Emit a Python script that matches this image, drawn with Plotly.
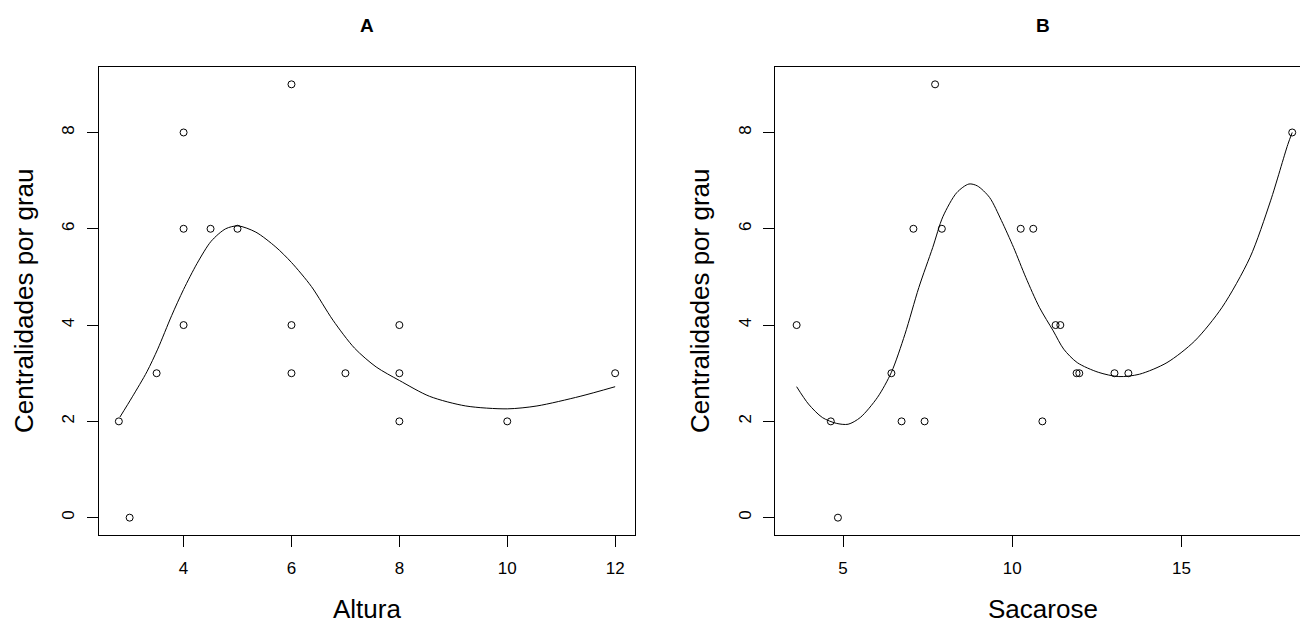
import plotly.graph_objects as go

# ---- Panel A data (Altura vs Centralidades por grau) ----
altura_x = [2.8, 3.0, 3.5, 4.0, 4.0, 4.0, 4.5, 5.0, 6.0, 6.0, 6.0, 7.0, 8.0, 8.0, 8.0, 10.0, 12.0]
altura_y = [2, 0, 3, 8, 6, 4, 6, 6, 9, 4, 3, 3, 4, 3, 2, 2, 3]

# smooth curve
curveA_x = [2.82, 3.05, 3.32, 3.52, 3.78, 4.0, 4.25, 4.51, 4.78, 5.01, 5.34, 5.71, 6.0,
            6.37, 6.77, 7.17, 7.57, 8.0, 8.56, 9.23, 10.0, 10.55, 11.35, 12.0]
curveA_y = [2.09, 2.51, 3.03, 3.50, 4.20, 4.74, 5.28, 5.74, 6.00, 6.06, 5.93, 5.62, 5.30,
            4.80, 4.10, 3.52, 3.13, 2.85, 2.52, 2.32, 2.26, 2.32, 2.52, 2.72]

# ---- Panel B data (Sacarose vs Centralidades por grau) ----
sacarose_x = [3.63, 4.64, 4.85, 6.43, 6.73, 7.08, 7.41, 7.72, 7.92, 10.25, 10.62, 10.89,
              11.28, 11.42, 11.90, 11.98, 13.02, 13.43, 18.27]
sacarose_y = [4, 2, 0, 3, 2, 6, 2, 9, 6, 6, 6, 2, 4, 4, 3, 3, 3, 3, 8]

curveB_x = [3.63, 3.98, 4.39, 4.80, 5.15, 5.51, 6.02, 6.43, 6.83, 7.24, 7.65, 7.95, 8.36,
            8.72, 8.97, 9.33, 9.68, 10.04, 10.40, 10.80, 11.21, 11.52, 11.92, 12.54, 13.15,
            13.76, 14.57, 15.39, 16.20, 17.02, 17.63, 18.14, 18.27]
curveB_y = [2.72, 2.36, 2.08, 1.96, 1.94, 2.08, 2.50, 3.02, 3.81, 4.78, 5.61, 6.25, 6.75,
            6.93, 6.89, 6.65, 6.17, 5.61, 4.99, 4.37, 3.88, 3.50, 3.22, 3.02, 2.93,
            2.98, 3.22, 3.67, 4.37, 5.40, 6.58, 7.75, 8.0]

xticksA = [4, 6, 8, 10, 12]
xticksB = [5, 10, 15]
yticks = [0, 2, 4, 6, 8]
titles = ["A", "B"]
xlabels = ["Altura", "Sacarose"]
ylabel = "Centralidades por grau"

FONT = "Liberation Sans, Arial, sans-serif"
W, H = 1300, 624
ML, MR, MT, MB = 99, 0, 67, 89
PW = W - ML - MR
PH = H - MT - MB


def px_x(p):
    return (p - ML) / PW


def px_y(p):
    return (H - MB - p) / PH


fig = go.Figure()
marker = dict(symbol="circle-open", size=7, color="black", line=dict(width=1, color="black"))
line = dict(color="black", width=1, shape="spline", smoothing=0.8)

fig.add_trace(go.Scatter(x=altura_x, y=altura_y, mode="markers", marker=marker,
                         xaxis="x", yaxis="y", hoverinfo="skip"))
fig.add_trace(go.Scatter(x=curveA_x, y=curveA_y, mode="lines", line=line,
                         xaxis="x", yaxis="y", hoverinfo="skip"))
fig.add_trace(go.Scatter(x=sacarose_x, y=sacarose_y, mode="markers", marker=marker,
                         xaxis="x2", yaxis="y2", hoverinfo="skip"))
fig.add_trace(go.Scatter(x=curveB_x, y=curveB_y, mode="lines", line=line,
                         xaxis="x2", yaxis="y2", hoverinfo="skip"))

common_ax = dict(showgrid=False, zeroline=False, showline=True, linecolor="black", linewidth=1,
                 ticks="outside", ticklen=11, tickwidth=1, tickcolor="black",
                 tickfont=dict(family=FONT, size=17, color="black"))

domA = [0, px_x(635)]
domB = [px_x(775.3), 1]

fig.update_layout(
    width=W, height=H, autosize=False,
    margin=dict(l=ML, r=MR, t=MT, b=MB),
    paper_bgcolor="white", plot_bgcolor="white",
    showlegend=False,
    xaxis=dict(common_ax, domain=domA, range=[2.432, 12.368], tickvals=xticksA,
               mirror=True, anchor="y", ticklabelstandoff=7),
    yaxis=dict(common_ax, domain=[0, 1], range=[-0.36, 9.36], tickvals=yticks,
               mirror=True, anchor="x", tickangle=-90, ticklabelstandoff=6),
    xaxis2=dict(common_ax, domain=domB, range=[3.0, 18.50], tickvals=xticksB,
                mirror=True, anchor="y2", ticklabelstandoff=7),
    yaxis2=dict(common_ax, domain=[0, 1], range=[-0.36, 9.36], tickvals=yticks,
                mirror=False, anchor="x2", tickangle=-90, ticklabelstandoff=6),
)

ann = []
centers = [367, 1043]
for i, cx in enumerate(centers):
    ann.append(dict(text="<b>%s</b>" % titles[i], x=px_x(cx), y=px_y(25), xref="paper", yref="paper",
                    showarrow=False, xanchor="center", yanchor="middle",
                    font=dict(family=FONT, size=19, color="black")))
    ann.append(dict(text=xlabels[i], x=px_x(cx), y=px_y(609), xref="paper", yref="paper",
                    showarrow=False, xanchor="center", yanchor="middle",
                    font=dict(family=FONT, size=26, color="black")))
for yx in [24, 700]:
    ann.append(dict(text=ylabel, x=px_x(yx), y=px_y(301), xref="paper", yref="paper",
                    showarrow=False, xanchor="center", yanchor="middle", textangle=-90,
                    font=dict(family=FONT, size=26, color="black")))
fig.update_layout(annotations=ann)

fig.write_html("out.html")
